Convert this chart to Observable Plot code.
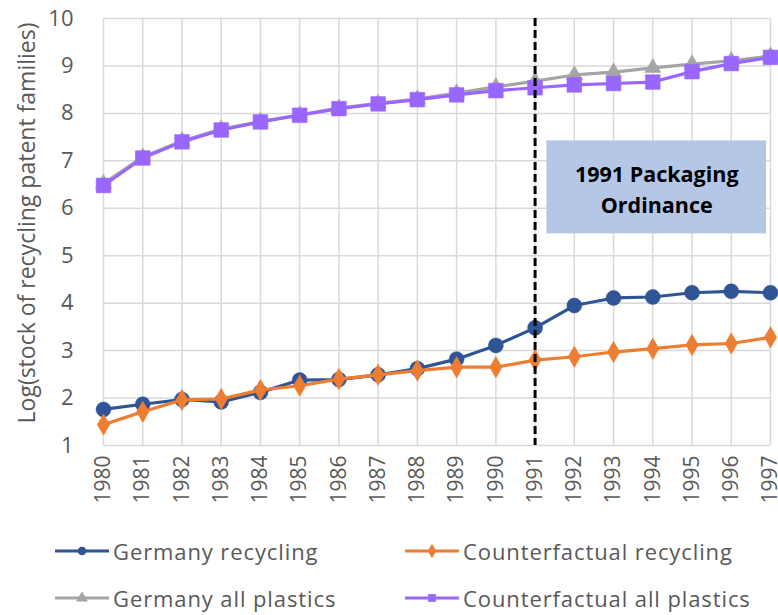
<!DOCTYPE html>
<html><head><meta charset="utf-8">
<script src="https://cdn.jsdelivr.net/npm/d3@7"></script>
<script src="https://cdn.jsdelivr.net/npm/@observablehq/plot@0.6"></script>
<style>
body{margin:0;background:#fff;font-family:"Open Sans",Roboto,sans-serif;}
#wrap{position:relative;width:778px;height:615px;}
#legend{position:absolute;left:0;top:0;width:778px;height:615px;pointer-events:none;}
.item{position:absolute;display:flex;align-items:center;font-size:22px;letter-spacing:0.9px;color:#595959;white-space:nowrap;}
.item svg{margin-right:4px;}
</style></head><body>
<div id="wrap"><div id="chart"></div><div id="legend"></div></div>
<script>
const years = [1980,1981,1982,1983,1984,1985,1986,1987,1988,1989,1990,1991,1992,1993,1994,1995,1996,1997];
const germanyRecycling =        [1.76,1.87,1.97,1.92,2.12,2.38,2.39,2.49,2.62,2.82,3.11,3.48,3.95,4.11,4.13,4.22,4.25,4.22];
const counterfactualRecycling = [1.44,1.71,1.96,1.98,2.17,2.26,2.40,2.49,2.58,2.65,2.65,2.80,2.87,2.97,3.04,3.12,3.15,3.28];
const germanyAllPlastics =      [6.52,7.08,7.42,7.67,7.83,7.97,8.11,8.21,8.30,8.43,8.56,8.68,8.81,8.87,8.96,9.04,9.11,9.21];
const counterfactualAllPlastics=[6.48,7.06,7.40,7.65,7.82,7.96,8.10,8.20,8.29,8.39,8.48,8.54,8.60,8.63,8.66,8.88,9.05,9.18];
const yTicks = [1,2,3,4,5,6,7,8,9,10];
const policyYear = [1991];
const yTitle = "Log(stock of recycling patent families)";
const annotationText = "1991 Packaging\nOrdinance";
const annotationBox = [{x1:1991.3, x2:1996.9, y1:5.46, y2:7.42}];

const seriesNames = ["Germany recycling","Counterfactual recycling","Germany all plastics","Counterfactual all plastics"];
const seriesValues = [germanyRecycling, counterfactualRecycling, germanyAllPlastics, counterfactualAllPlastics];
const seriesColors = ["#2f5597","#ed7d31","#a5a5a5","#9966ff"];
const seriesSymbols = ["circle","diamond","triangle","square"];
const seriesR = [7.5, 6.5, 6, 8.3];
const drawOrder = [0,1,2,3];

const rows = seriesNames.map((name,i)=>years.map((year,j)=>({series:name, year, value:seriesValues[i][j]})));

const marks = [
  Plot.gridX(years, {stroke:"#d9d9d9", strokeOpacity:1, strokeWidth:1.5}),
  Plot.gridY(yTicks, {stroke:"#d9d9d9", strokeOpacity:1, strokeWidth:1.5}),
  Plot.rect(annotationBox, {x1:"x1", x2:"x2", y1:"y1", y2:"y2", fill:"#b4c7e7"}),
  Plot.axisY(yTicks, {tickSize:0, tickPadding:30, fontSize:22, fill:"#595959", label:null}),
  Plot.axisX(years, {tickSize:0, tickPadding:10, tickRotate:-90, fontSize:21, fill:"#595959", label:null, tickFormat:d=>String(d)}),
  Plot.text([yTitle], {frameAnchor:"left", textAnchor:"middle", dx:-76, dy:-9, rotate:-90, text:d=>d, fontSize:23, fill:"#595959", letterSpacing:"0.8px"}),
];
for (const i of drawOrder) {
  marks.push(Plot.line(rows[i], {x:"year", y:"value", stroke:seriesColors[i], strokeWidth:3.2}));
  marks.push(Plot.dot(rows[i], {x:"year", y:"value", symbol:()=>seriesSymbols[i], r:seriesR[i], fill:seriesColors[i], stroke:seriesColors[i], strokeWidth:0.5}));
}
marks.push(Plot.ruleX(policyYear, {stroke:"#000", strokeWidth:3, strokeDasharray:"8,4"}));
marks.push(Plot.text([annotationText], {
  x: annotationBox[0].x1/2 + annotationBox[0].x2/2,
  y: annotationBox[0].y1/2 + annotationBox[0].y2/2,
  text:d=>d, fontSize:21.5, fontWeight:"bold", fill:"#000", lineHeight:1.45
}));

const chart = Plot.plot({
  width:778, height:520,
  marginLeft:103, marginRight:8, marginTop:18, marginBottom:75,
  style:{fontFamily:'"Open Sans",Roboto,sans-serif', background:"#fff", overflow:"visible"},
  x:{domain:[1980,1997]},
  y:{domain:[1,10]},
  symbol:{type:"identity"},
  marks
});
document.getElementById("chart").appendChild(chart);

// legend
const legendPos = [[55,550],[405,550],[55,597],[405,597]];
const leg = document.getElementById("legend");
seriesNames.forEach((name,i)=>{
  const div = document.createElement("div");
  div.className="item";
  div.style.left = legendPos[i][0]+"px";
  div.style.top = (legendPos[i][1]-14)+"px";
  const svg = d3.create("svg").attr("width",54).attr("height",28);
  svg.append("line").attr("x1",0).attr("x2",54).attr("y1",14).attr("y2",14).attr("stroke",seriesColors[i]).attr("stroke-width",3.2);
  const sym = {circle:d3.symbolCircle, diamond:d3.symbolDiamond, triangle:d3.symbolTriangle, square:d3.symbolSquare}[seriesSymbols[i]];
  svg.append("path").attr("transform","translate(27,14)").attr("d",d3.symbol(sym, 60)()).attr("fill",seriesColors[i]);
  div.appendChild(svg.node());
  const span = document.createElement("span");
  span.textContent = name;
  div.appendChild(span);
  leg.appendChild(div);
});
</script>
</body></html>
